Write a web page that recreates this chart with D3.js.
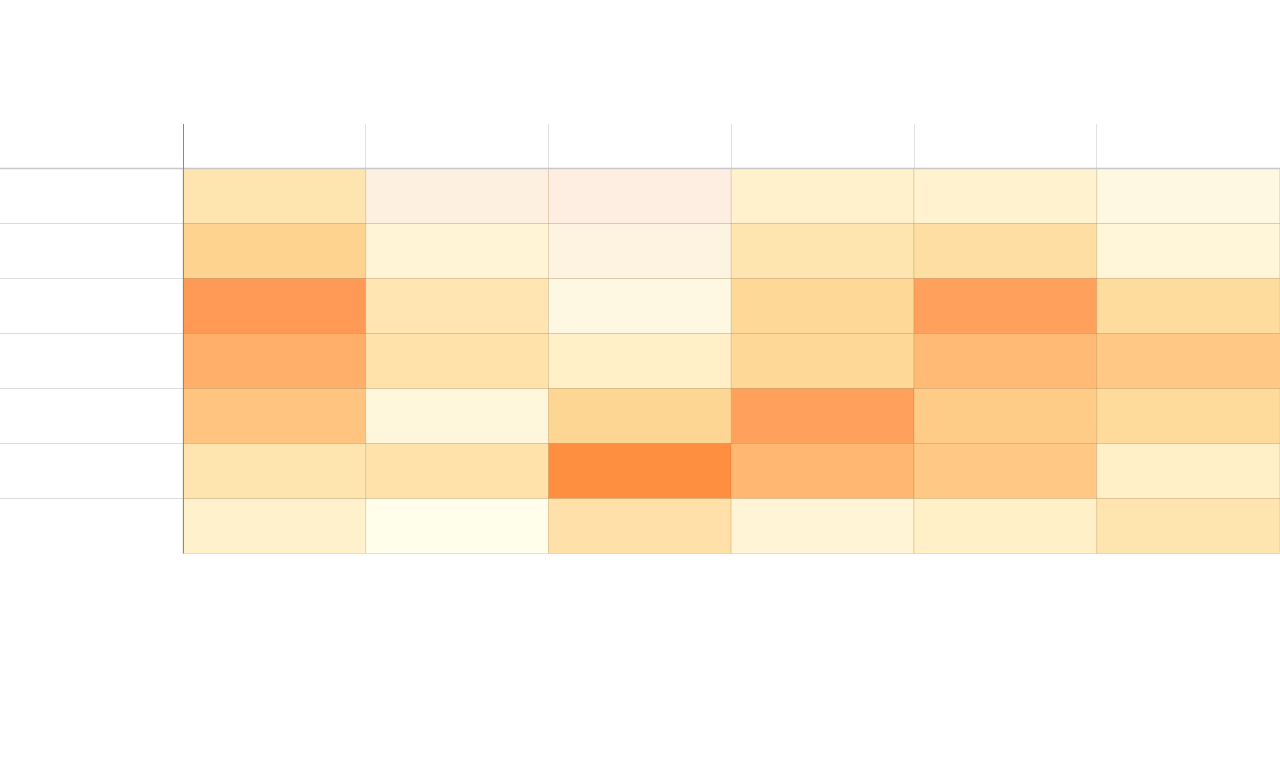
<!DOCTYPE html>
<html>
<head>
<meta charset="utf-8">
<script src="https://cdn.jsdelivr.net/npm/d3@7"></script>
<style>
  html, body { margin: 0; padding: 0; background: #fff; }
  svg { display: block; }
</style>
</head>
<body>
<svg id="chart" width="1280" height="760"></svg>
<script>
// ---- data ----
const columns = ["c1", "c2", "c3", "c4", "c5", "c6"];
const rows = ["r1", "r2", "r3", "r4", "r5", "r6", "r7"];
const row1 = [30, -20, -25, 18, 16, -8];
const row2 = [44, 10, -15, 30, 35, 8];
const row3 = [90, 29, -8, 40, 85, 37];
const row4 = [72, 32, 20, 40, 62, 52];
const row5 = [55, 7, 42, 84, 50, 38];
const row6 = [30, 32, 100, 65, 52, 20];
const row7 = [18, 0, 33, 10, 20, 30];
const values = [row1, row2, row3, row4, row5, row6, row7];

const colorDomain = [-25, -10, 0, 10, 20, 30, 40, 50, 60, 70, 80, 90, 100];
const colorRange = ["#feede1", "#fef5df", "#fffeea", "#fff4d6", "#fff0c8", "#fee4af",
                    "#fed896", "#ffcc88", "#ffbc78", "#ffb26c", "#ffa562", "#ff9a56", "#ff8f40"];

// ---- layout ----
const svg = d3.select("#chart");
const gLeft = 183, gRight = 1279.5, gTop = 168.5, gBottom = 553.5, gHeaderTop = 124;

const x = d3.scaleBand().domain(columns).range([gLeft, gRight]);
const y = d3.scaleBand().domain(rows).range([gTop, gBottom]);
const color = d3.scaleLinear().domain(colorDomain).range(colorRange).clamp(true);

const cells = [];
values.forEach((r, i) => r.forEach((v, j) => cells.push({ row: rows[i], col: columns[j], v })));

// horizontal row lines across whole width
const g = svg.append("g");
g.selectAll("line.h")
  .data(rows.slice(1))
  .join("line")
  .attr("x1", 0).attr("x2", 1280)
  .attr("y1", d => Math.floor(y(d)) + 0.5).attr("y2", d => Math.floor(y(d)) + 0.5)
  .attr("stroke", "#dcdcdc").attr("stroke-width", 1);

// vertical header lines
g.selectAll("line.v")
  .data(columns.slice(1))
  .join("line")
  .attr("x1", d => Math.floor(x(d)) + 0.5).attr("x2", d => Math.floor(x(d)) + 0.5)
  .attr("y1", gHeaderTop).attr("y2", gTop)
  .attr("stroke", "#e2e2e2").attr("stroke-width", 1);

// cells
svg.append("g").selectAll("rect")
  .data(cells)
  .join("rect")
  .attr("x", d => x(d.col))
  .attr("y", d => y(d.row))
  .attr("width", x.bandwidth())
  .attr("height", y.bandwidth())
  .attr("fill", d => color(d.v))
  .attr("stroke", "rgba(150,100,20,0.18)")
  .attr("stroke-width", 1);

// top horizontal axis line
svg.append("line")
  .attr("x1", 0).attr("x2", 1280)
  .attr("y1", gTop).attr("y2", gTop)
  .attr("stroke", "#c8c8c8").attr("stroke-width", 1.5);

// left vertical axis line
svg.append("line")
  .attr("x1", gLeft + 0.5).attr("x2", gLeft + 0.5)
  .attr("y1", gHeaderTop).attr("y2", gBottom)
  .attr("stroke", "#8a8a8a").attr("stroke-width", 1);
</script>
</body>
</html>
